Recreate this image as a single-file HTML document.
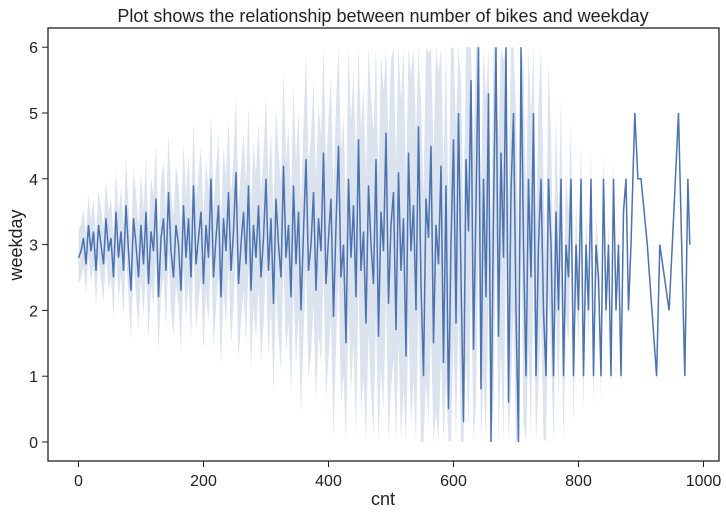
<!DOCTYPE html>
<html><head><meta charset="utf-8"><style>
body{margin:0;background:#fff;font-family:"Liberation Sans",sans-serif}
</style></head><body>
<svg id="chart" width="726" height="515" viewBox="0 0 726 515" xmlns="http://www.w3.org/2000/svg" font-family="Liberation Sans, sans-serif">
<text x="383" y="22" text-anchor="middle" font-size="18" fill="#222">Plot shows the relationship between number of bikes and weekday</text>
<text x="383" y="505" text-anchor="middle" font-size="18" fill="#222">cnt</text>
<text transform="translate(22,245) rotate(-90)" text-anchor="middle" font-size="18" fill="#222">weekday</text>
<g id="band"></g>
<g id="line"></g>
<g id="axes"></g>
</svg>
<script>
const meanDense=[2.8,2.9,3.1,2.7,3.3,2.9,3.2,2.6,3.3,3.0,2.7,3.4,2.9,3.1,2.5,3.5,2.8,3.2,2.6,3.6,2.9,2.3,3.4,3.0,2.5,3.3,
2.7,3.5,2.4,3.2,2.9,3.7,2.2,3.1,3.4,2.6,3.8,2.9,2.5,3.3,3.0,2.3,3.6,2.8,3.4,2.5,3.9,2.7,3.1,3.5,2.4,
3.3,2.8,4.0,2.5,3.1,3.6,2.2,3.4,2.9,3.8,2.6,3.2,4.1,2.4,3.0,3.5,2.7,3.9,2.3,3.3,2.8,3.6,2.5,3.1,4.0,
2.6,3.4,2.1,3.7,3.0,2.5,4.2,2.8,3.3,2.2,3.9,2.7,3.5,2.0,3.2,4.3,2.6,3.0,3.8,2.3,3.4,2.9,4.4,2.4,3.1,
3.7,1.9,3.3,4.5,2.5,3.0,1.5,4.0,2.8,3.6,2.2,4.6,2.6,3.2,1.8,3.9,3.0,2.4,4.3,1.6,3.5,2.9,4.7,2.1,3.3,
3.8,1.7,4.1,2.6,3.4,1.3,4.4,2.9,3.6,2.0,4.8,2.4,1.0,3.7,3.1,4.5,1.5,3.3,2.7,4.2,1.2,3.9,0.5,3.0,4.6,
1.8,5.0,2.5,0.3,4.3,3.2,5.5,1.4,3.6,6.0,0.8,4.0,2.2,5.3,0.0,3.5,6.0,1.6,4.4,2.8,6.0,0.6,3.8,5.0,2.0,
0.0,6.0,3.0,1.0,4.0,2.5,5.0,1.0,3.0,4.0,2.0,1.0,4.0,3.0,1.0,3.5,2.0,4.0,1.0,3.0,2.5,4.0,1.0,3.0,2.0,
4.0,1.0,3.0,2.0,4.0,1.0,3.0,2.5,1.0,4.0,2.0,3.0,1.0,4.0,2.0,3.0,1.0,3.5,4.0,2.0,3.0];
const tailCnt=[890,895,900,910,925,930,945,950,960,970,975,978];
const tailMean=[5.0,4.0,4.0,3.0,1.0,3.0,2.0,3.0,5.0,1.0,4.0,3.0];
const bandHalf=[0.4,0.8,1.0,1.3,1.8,2.5,3.0,3.0,0.6,0];
const xTicks=[0,200,400,600,800,1000];
const yTicks=[0,1,2,3,4,5,6];
const NS="http://www.w3.org/2000/svg";
const L=48,R=719,T=28,B=461;
const X=v=>78.5+v*0.625, Y=v=>442-v*65.8;
const cnt=meanDense.map((_,i)=>i*4).concat(tailCnt);
const mean=meanDense.concat(tailMean);
function hw(c){const i=Math.min(Math.floor(c/100),bandHalf.length-2);const f=c/100-i;return bandHalf[i]*(1-f)+bandHalf[i+1]*f;}
const cl=v=>Math.max(0,Math.min(6,v));
let up=[],dn=[];
meanDense.forEach((m,i)=>{const c=i*4,h=hw(c);up.push(X(c).toFixed(1)+","+Y(cl(m+h)).toFixed(1));dn.unshift(X(c).toFixed(1)+","+Y(cl(m-h)).toFixed(1));});
const poly=document.createElementNS(NS,"polygon");
poly.setAttribute("points",up.concat(dn).join(" "));
poly.setAttribute("fill","#4c72b0");poly.setAttribute("fill-opacity","0.2");


document.getElementById("band").appendChild(poly);
const pl=document.createElementNS(NS,"polyline");
pl.setAttribute("points",cnt.map((c,i)=>X(c).toFixed(1)+","+Y(mean[i]).toFixed(1)).join(" "));
pl.setAttribute("fill","none");pl.setAttribute("stroke","#4c72b0");pl.setAttribute("stroke-width","1.5");


document.getElementById("line").appendChild(pl);
const ax=document.getElementById("axes");
const fr=document.createElementNS(NS,"rect");
fr.setAttribute("x",L);fr.setAttribute("y",T);fr.setAttribute("width",R-L);fr.setAttribute("height",B-T);
fr.setAttribute("fill","none");fr.setAttribute("stroke","#222");fr.setAttribute("stroke-width","1.3");


ax.appendChild(fr);
xTicks.forEach(t=>{const l=document.createElementNS(NS,"line");l.setAttribute("x1",X(t));l.setAttribute("x2",X(t));l.setAttribute("y1",B);l.setAttribute("y2",B+6);l.setAttribute("stroke","#222");


ax.appendChild(l);
const s=document.createElementNS(NS,"text");s.setAttribute("x",X(t));s.setAttribute("y",B+25);s.setAttribute("text-anchor","middle");s.setAttribute("font-size","16");s.setAttribute("fill","#222");s.textContent=t;


ax.appendChild(s);});
yTicks.forEach(t=>{const l=document.createElementNS(NS,"line");l.setAttribute("x1",L-6);l.setAttribute("x2",L);l.setAttribute("y1",Y(t));l.setAttribute("y2",Y(t));l.setAttribute("stroke","#222");


ax.appendChild(l);
const s=document.createElementNS(NS,"text");s.setAttribute("x",L-10);s.setAttribute("y",Y(t)+6);s.setAttribute("text-anchor","end");s.setAttribute("font-size","16");s.setAttribute("fill","#222");s.textContent=t;


ax.appendChild(s);});
</script>
</body></html>
